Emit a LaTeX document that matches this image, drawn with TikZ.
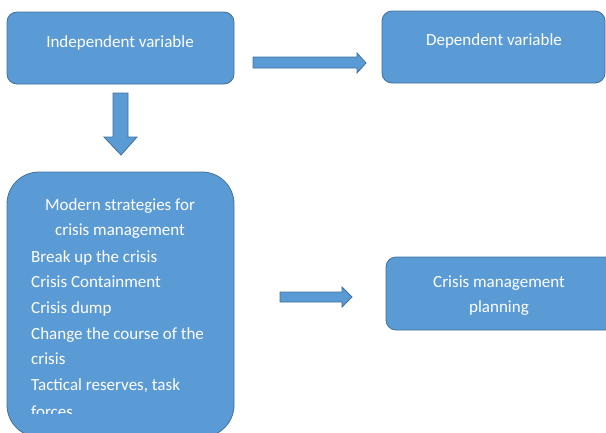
\documentclass[tikz,border=0pt]{standalone}
\usepackage{fontspec}
\setmainfont{Carlito}
\definecolor{boxfill}{HTML}{5B9BD5}
\definecolor{boxline}{HTML}{41719C}
\begin{document}
\begin{tikzpicture}[x=1pt,y=-1pt,
  box/.style={draw=boxline,fill=boxfill,line width=0.8pt},
  txt/.style={text=white,inner sep=0pt,font=\fontsize{17}{20}\selectfont},
  blockarrow/.style={draw=boxline,fill=boxfill,line width=0.8pt,line join=miter}]
\useasboundingbox (0,0) rectangle (606,432);
\clip (0,0) rectangle (606,432);
% boxes
\draw[box,rounded corners=10pt] (7,12) rectangle (234,84);
\draw[box,rounded corners=10pt] (382,11) rectangle (605,83);
\draw[box,rounded corners=32pt] (7,172) rectangle (234,437);
\draw[box,rounded corners=10pt] (386,257) rectangle (615,330);
% texts
\node[txt,anchor=base] (indep) at (120,47) {Independent variable};
\node[txt,anchor=base] (dep) at (494,45) {Dependent variable};
\node[txt,anchor=base] (cmp1) at (499,287) {Crisis management};
\node[txt,anchor=base] (cmp2) at (499,312) {planning};
\node[txt,anchor=base] (mt1) at (120,210) {Modern strategies for};
\node[txt,anchor=base] (mt2) at (120,235) {crisis management};
\foreach \t [count=\i] in {Break up the crisis,Crisis Containment,Crisis dump,Change the course of the,crisis,{Tactical reserves, task}}
  \node[txt,anchor=base west] (li\i) at (31,{262+25.7*(\i-1)}) {\t};
\begin{scope}
  \clip (0,0) rectangle (606,413.5);
  \node[txt,anchor=base west] (li7) at (31,417) {forces};
\end{scope}
% block arrows
\draw[blockarrow] (253,57) -- (357,57) -- (357,53) -- (366,63) -- (357,73) -- (357,68) -- (253,68) -- cycle;
\draw[blockarrow] (280,292) -- (342,292) -- (342,287) -- (352,297) -- (342,307) -- (342,302) -- (280,302) -- cycle;
\draw[blockarrow] (113,93) -- (128,93) -- (128,137) -- (137,137) -- (121,155) -- (104,137) -- (113,137) -- cycle;
\end{tikzpicture}
\end{document}
